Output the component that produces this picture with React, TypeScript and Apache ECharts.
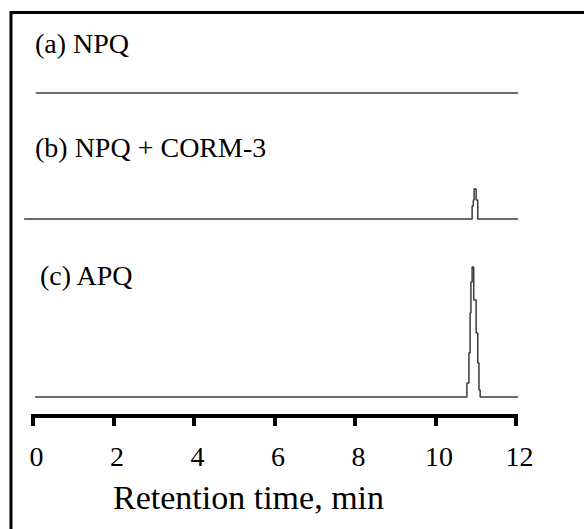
import React, { useEffect, useRef } from "react";
import * as echarts from "echarts";

// Retention time ticks (min)
const tickValues = [0, 2, 4, 6, 8, 10, 12];

// Panel titles
const panelTitles = ["(a) NPQ", "(b) NPQ + CORM-3", "(c) APQ"];
const axisTitle = "Retention time, min";

// (a) NPQ – flat trace
const timeA = [0.07, 12.07];
const signalA = [0, 0];

// (b) NPQ + CORM-3 – small peak near 11 min
const timeB = [-0.22, 10.91, 10.94, 10.96, 11.01, 11.05, 12.05];
const signalB = [0, 13, 19, 30, 19, 0, 0];

// (c) APQ – large peak near 11 min
const timeC = [0.05, 10.78, 10.83, 10.86, 10.88, 10.91, 10.95, 11.01, 11.05, 11.08, 11.11, 12.05];
const signalC = [0, 14, 44, 84, 115, 130, 97, 64, 34, 7, 0, 0];

const FONT = "'Liberation Serif', 'Times New Roman', serif";
const TRACE = "#3c3c3c";

function pairs(t: number[], v: number[]) {
  return t.map((x, i) => [x, v[i]]);
}

export default function App() {
  const ref = useRef<HTMLDivElement>(null);
  useEffect(() => {
    if (!ref.current) return;
    const chart = echarts.init(ref.current, null, { renderer: "svg" });
    const x0 = 33;
    const x12 = 516;
    const pxPerMin = (x12 - x0) / 12;
    const right = 584 - x12;
    const startB = timeB[0];
    const hiddenX = (idx: number, min: number) => ({
      type: "value",
      gridIndex: idx,
      min,
      max: 12,
      show: false,
    });
    const hiddenY = (idx: number, min: number, max: number) => ({
      type: "value",
      gridIndex: idx,
      min,
      max,
      show: false,
    });
    const lineSeries = (idx: number, t: number[], v: number[]) => ({
      type: "line",
      xAxisIndex: idx,
      yAxisIndex: idx,
      data: pairs(t, v),
      step: "end",
      symbol: "none",
      clip: false,
      lineStyle: { color: TRACE, width: 1.5 },
    });
    chart.setOption({
      animation: false,
      backgroundColor: "#ffffff",
      grid: [
        { left: x0, right, top: 63, height: 40 },
        { left: x0 + startB * pxPerMin, right, top: 189, height: 40 },
        { left: x0, right, top: 267, height: 149 },
      ],
      xAxis: [
        hiddenX(0, 0),
        hiddenX(1, startB),
        {
          type: "value",
          gridIndex: 2,
          min: tickValues[0],
          max: tickValues[tickValues.length - 1],
          interval: 2,
          axisLine: { show: true, onZero: false, lineStyle: { color: "#000", width: 4, cap: "square" } },
          axisTick: { show: true, inside: false, length: 10, lineStyle: { color: "#000", width: 4 } },
          axisLabel: {
            show: true,
            margin: 26,
            padding: [0, 0, 0, 7],
            color: "#000",
            fontSize: 28,
            fontFamily: FONT,
          },
          splitLine: { show: false },
        },
      ],
      yAxis: [hiddenY(0, -10, 30), hiddenY(1, -10, 30), hiddenY(2, -19, 130)],
      series: [
        lineSeries(0, timeA, signalA),
        lineSeries(1, timeB, signalB),
        lineSeries(2, timeC, signalC),
      ],
      graphic: [
        { type: "line", shape: { x1: 11, y1: 12.5, x2: 584, y2: 12.5 }, style: { stroke: "#000", lineWidth: 3 } },
        { type: "line", shape: { x1: 11, y1: 11, x2: 11, y2: 529 }, style: { stroke: "#000", lineWidth: 3 } },
        { type: "text", x: 35, y: 43, style: { text: panelTitles[0], font: `28px ${FONT}`, fill: "#000", verticalAlign: "middle" } },
        { type: "text", x: 35, y: 147, style: { text: panelTitles[1], font: `28px ${FONT}`, fill: "#000", verticalAlign: "middle" } },
        { type: "text", x: 40, y: 275, style: { text: panelTitles[2], font: `28px ${FONT}`, fill: "#000", verticalAlign: "middle" } },
        { type: "text", x: 113, y: 497, style: { text: axisTitle, font: `34px ${FONT}`, fill: "#000", verticalAlign: "middle" } },
      ],
    });
    return () => chart.dispose();
  }, []);
  return (
    <div
      ref={ref}
      style={{ position: "absolute", left: 0, top: 0, width: 584, height: 529, background: "#fff" }}
    />
  );
}
